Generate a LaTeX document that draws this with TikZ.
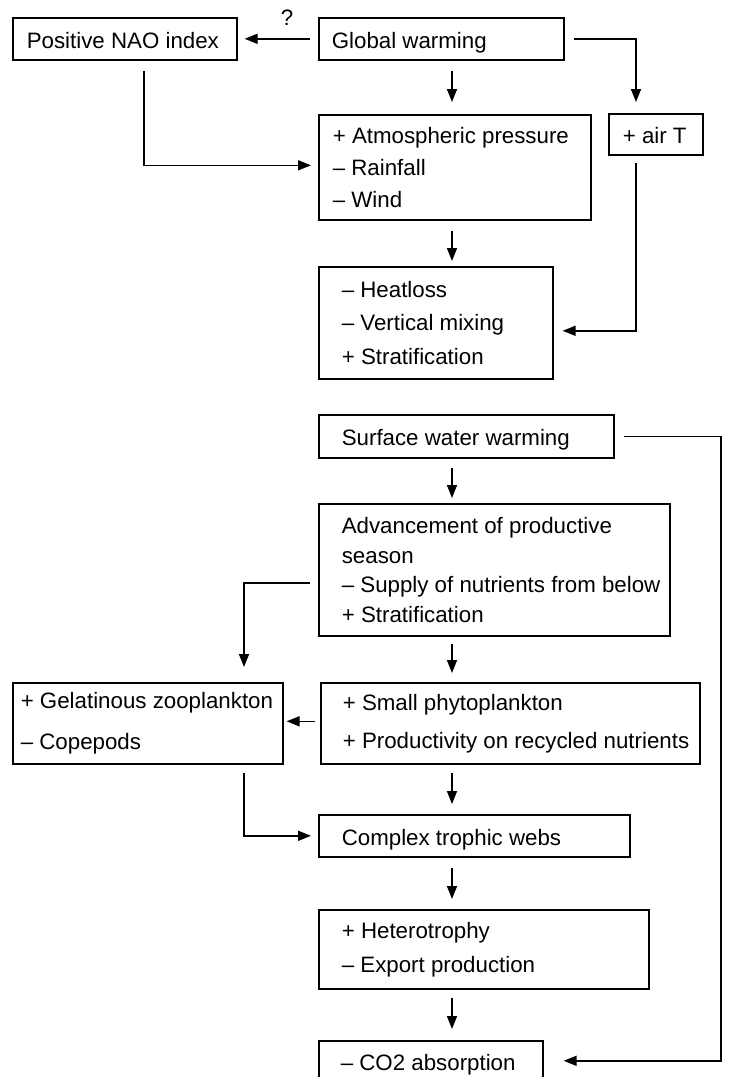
\documentclass[tikz,border=0pt]{standalone}
\usepackage{fontspec}
\setmainfont{Liberation Sans}
\usetikzlibrary{arrows.meta}
\tikzset{
    box/.style={
           rectangle,
           draw=black, line width=1.6pt,
           anchor=north west,
           inner xsep=0pt, inner ysep=0pt,
           align=flush left,
           text width=#1,
           font=\fontsize{22.3}{32}\selectfont,
           },
    pad/.style={execute at begin node={\leftskip=#1}},
    lines/.style={font=\fontsize{22.3}{#1}\selectfont},
    single/.style={text height=19pt, text depth=0pt},
    link/.style={line width=1.5pt, -{Triangle[length=13pt,width=10pt]}},
}

\begin{document}
\begin{tikzpicture}[x=1pt,y=-1pt]
      \useasboundingbox (0,0) rectangle (729,1077);
      \clip (0,0) rectangle (729,1077);
      \coordinate (spine) at (452,0);
      \coordinate (rail)  at (636,0);
      \coordinate (drop)  at (244,0);
      \coordinate (far)   at (721,0);
      \node[box=224pt, minimum height=42pt, pad=14pt, single] (nao) at (12,17) {Positive NAO index};
      \node[box=245pt, minimum height=42pt, pad=13pt, single] (gw) at (318,17) {Global warming};
      \node[font=\fontsize{22.3}{26}\selectfont] (qm) at (287,18) {?};
      \node[box=94pt, minimum height=41pt, pad=14pt, single] (airt) at (608,113) {+ air T};
      \node[box=272pt, minimum height=105pt, pad=14pt, lines=32pt] (atm) at (318,114)
           {+ Atmospheric pressure\\ – Rainfall\\ – Wind};
      \node[box=234pt, minimum height=112pt, pad=23pt, lines=33.5pt] (heat) at (318,266)
           {– Heatloss\\ – Vertical mixing\\ + Stratification};
      \node[box=295pt, minimum height=43pt, pad=23pt, single] (sww) at (318,414) {Surface water warming};
      \node[box=351pt, minimum height=132pt, pad=23pt, lines=29.5pt] (adv) at (318,503)
           {Advancement of productive\\ season\\ – Supply of nutrients from below\\ + Stratification};
      \node[box=270pt, minimum height=81pt, pad=8pt, lines=41pt] (gel) at (12,682)
           {+ Gelatinous zooplankton\\ – Copepods};
      \node[box=379pt, minimum height=81pt, pad=22pt, lines=38pt] (small) at (320,682)
           {+ Small phytoplankton\\ + Productivity on recycled nutrients};
      \node[box=311pt, minimum height=42pt, pad=23pt, single] (web) at (318,814) {Complex trophic webs};
      \node[box=330pt, minimum height=79pt, pad=23pt, lines=34pt] (het) at (318,909)
           {+ Heterotrophy\\ – Export production};
      \node[box=224pt, minimum height=40pt, pad=22pt, single] (co2) at (318,1040) {– CO2 absorption};
      \draw[link, shorten <=8pt, shorten >=7pt] (gw) -- (nao);
      \draw[link, shorten <=10pt, shorten >=12pt] (gw.south -| spine) -- (atm.north -| spine);
      \draw[link, shorten <=9pt, shorten >=11pt] (gw.east) -| (airt.north -| rail);
      \draw[link, shorten <=10pt, shorten >=7pt] ([xshift=19pt]nao.south) |- ([yshift=2pt]atm.west);
      \draw[link, shorten <=10pt, shorten >=5pt] (atm.south -| spine) -- (heat.north -| spine);
      \draw[link, shorten <=7pt, shorten >=9pt] (airt.south -| rail) |- ([yshift=-8pt]heat.east);
      \draw[link, shorten <=9pt, shorten >=20pt] (sww.east) -- (sww.east -| far) |- (co2.east);
      \draw[link, shorten <=9pt, shorten >=5pt] (sww.south -| spine) -- (adv.north -| spine);
      \draw[link, shorten <=8pt, shorten >=15pt] ([yshift=-13pt]adv.west) -| (gel.north -| drop);
      \draw[link, shorten <=7pt, shorten >=9pt] (adv.south -| spine) -- (small.north -| spine);
      \draw[link, shorten <=5pt, shorten >=3pt] ([yshift=2pt]small.west) -- ([yshift=2pt]gel.east);
      \draw[link, shorten <=8pt, shorten >=7pt] (gel.south -| drop) |- (web.west);
      \draw[link, shorten <=8pt, shorten >=10pt] (small.south -| spine) -- (web.north -| spine);
      \draw[link, shorten <=10pt, shorten >=10pt] (web.south -| spine) -- (het.north -| spine);
      \draw[link, shorten <=8pt, shorten >=11pt] (het.south -| spine) -- (co2.north -| spine);
\end{tikzpicture}
\end{document}
